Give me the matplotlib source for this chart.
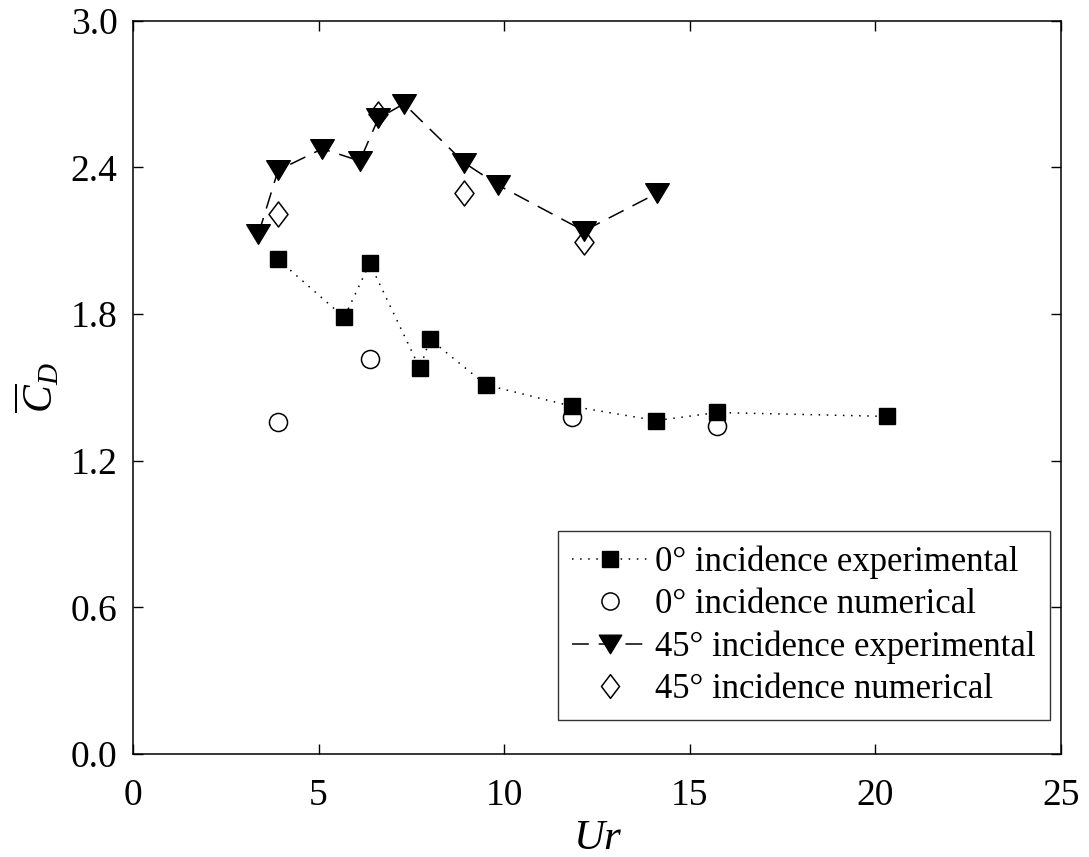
import numpy as np
import matplotlib
matplotlib.use('Agg')
import matplotlib.pyplot as plt
from matplotlib.path import Path

plt.rcParams['font.family'] = ['Liberation Serif', 'DejaVu Serif']
plt.rcParams['mathtext.fontset'] = 'custom'
plt.rcParams['mathtext.rm'] = 'Liberation Serif'
plt.rcParams['mathtext.it'] = 'Liberation Serif:italic'

# 0 deg incidence
ur_exp0 = [3.91, 5.69, 6.38, 7.73, 8.0, 9.51, 11.84, 14.1, 15.74, 20.32]
cd_exp0 = [2.023, 1.786, 2.007, 1.577, 1.697, 1.51, 1.422, 1.364, 1.397, 1.381]
ur_num0 = [3.91, 6.38, 11.84, 15.74]
cd_num0 = [1.36, 1.615, 1.378, 1.34]

# 45 deg incidence
ur_exp45 = [3.38, 3.91, 5.1, 6.11, 6.61, 7.3, 8.93, 9.84, 12.15, 14.13]
cd_exp45 = [2.127, 2.388, 2.476, 2.426, 2.60, 2.66, 2.418, 2.327, 2.14, 2.295]
ur_num45 = [3.91, 6.61, 8.93, 12.15]
cd_num45 = [2.211, 2.619, 2.293, 2.095]

labels = ['0° incidence experimental', '0° incidence numerical',
          '45° incidence experimental', '45° incidence numerical']

# wide down-triangle and tall diamond markers
tri = Path([(-1, 0.83), (1, 0.83), (0, -0.83), (-1, 0.83)], closed=True)
dia = Path([(0, 1), (0.76, 0), (0, -1), (-0.76, 0), (0, 1)], closed=True)

fig = plt.figure(figsize=(10.89, 8.57), dpi=100)
ax = fig.add_axes([0.1221, 0.1202, 0.8522, 0.8557])

h2, = ax.plot(ur_num0, cd_num0, ls='none', marker='o', ms=13, mfc='white',
              mec='black', mew=1.1, zorder=2)
h4, = ax.plot(ur_num45, cd_num45, ls='none', marker=dia, ms=18, mfc='white',
              mec='black', mew=1.1, zorder=2)
h1, = ax.plot(ur_exp0, cd_exp0, color='black', ls=(0, (1, 4.3)), lw=1.1,
              marker='s', ms=12, mfc='black', mec='black', zorder=3)
h3, = ax.plot(ur_exp45, cd_exp45, color='black', ls=(0, (11, 6.5)), lw=1.1,
              marker=tri, ms=17, mfc='black', mec='black', zorder=3)

ax.set_xlim(0, 25)
ax.set_ylim(0, 3.0)
ax.set_xticks([0, 5, 10, 15, 20, 25])
yt = np.arange(0, 3.01, 0.6)
ax.set_yticks(yt)
ax.set_yticklabels(['%.1f' % v for v in yt])
ax.tick_params(direction='in', length=7, width=1, labelsize=27,
               top=True, right=True)
ax.tick_params(axis='x', pad=17.5)
ax.tick_params(axis='y', pad=11)
for s in ax.spines.values():
    s.set_linewidth(1.1)

ax.set_xlabel('Ur', fontsize=31, fontstyle='italic', labelpad=5)
ax.set_ylabel(r'$\overline{C}_D$', fontsize=30, labelpad=6)

leg = ax.legend([h1, h2, h3, h4], labels, loc='lower right',
                bbox_to_anchor=(0.988, 0.046), borderaxespad=0, fontsize=25,
                frameon=True, fancybox=False, handlelength=2.19,
                handletextpad=0.2, labelspacing=0.27, borderpad=0.4,
                markerscale=0.95)
leg.get_frame().set_edgecolor('black')
leg.get_frame().set_linewidth(1.0)

fig.savefig('out.png', dpi=100)
